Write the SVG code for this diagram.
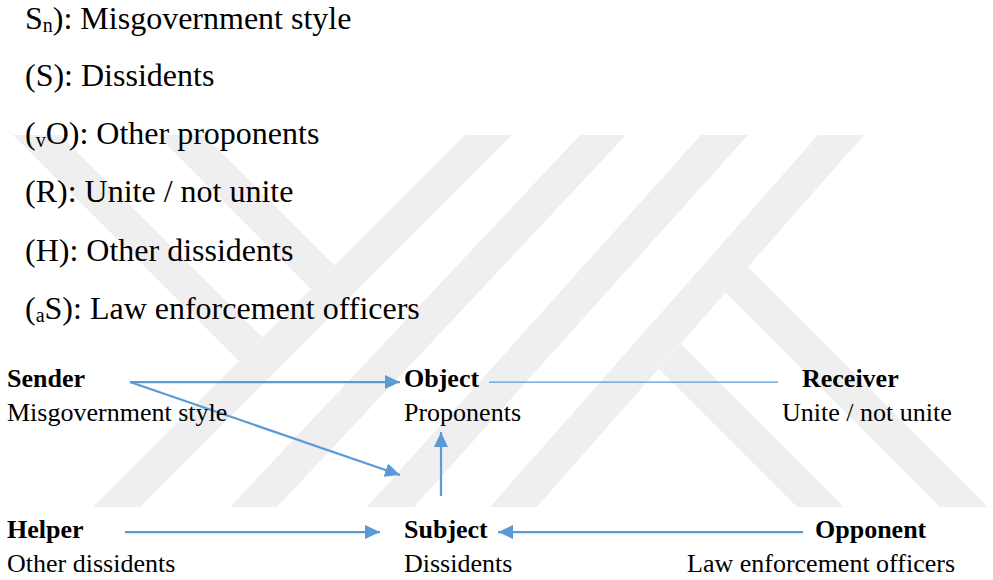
<svg xmlns="http://www.w3.org/2000/svg" width="993" height="580" viewBox="0 0 993 580">
  <style>
    .wm { fill: #efefef; }
    .list { font-family: "Liberation Serif", "Times New Roman", serif; font-size: 32px; fill: #000; }
    .t { font-family: "Liberation Serif", "Times New Roman", serif; font-size: 26px; fill: #000; }
    .b { font-weight: bold; }
    .conn { stroke: #5b9bd5; stroke-width: 2.25; fill: none; }
    .thin { stroke: #5b9bd5; stroke-width: 1.25; fill: none; }
  </style>
  <defs>
    <marker id="ah" markerUnits="userSpaceOnUse" markerWidth="16" markerHeight="15" refX="15" refY="7" orient="auto">
      <path d="M0,0 L15,7 L0,14 z" fill="#5b9bd5"/>
    </marker>
  </defs>

  <rect width="993" height="580" fill="#ffffff"/>

  <!-- light grey background emblem made of diagonal stripes -->
  <g id="emblem">
    <polygon class="wm" points="13,135 60,135 262.5,337.5 239,361"/>
    <polygon class="wm" points="157,135 204,135 334.5,265.5 311,289"/>
    <polygon class="wm" points="465,135 512,135 140,507 93,507"/>
    <polygon class="wm" points="580,135 626,135 277,507 230,507"/>
    <polygon class="wm" points="701,135 748,135 414,507 367,507"/>
    <polygon class="wm" points="818,135 864,135 537,507 490,507"/>
    <polygon class="wm" points="659,369 681,344 844,507 797,507"/>
    <polygon class="wm" points="725,292 748,267 988,507 940,507"/>
  </g>

  <!-- legend of actants -->
  <g id="legend" class="list">
    <text x="25" y="29">S<tspan font-size="20" dy="3">n</tspan><tspan dy="-3">): Misgovernment style</tspan></text>
    <text x="25" y="86">(S): Dissidents</text>
    <text x="25" y="144">(<tspan font-size="20" dy="3">v</tspan><tspan dy="-3">O): Other proponents</tspan></text>
    <text x="25" y="202">(R): Unite / not unite</text>
    <text x="25" y="261">(H): Other dissidents</text>
    <text x="25" y="319">(<tspan font-size="20" dy="3">a</tspan><tspan dy="-3">S): Law enforcement officers</tspan></text>
  </g>

  <!-- connectors -->
  <g id="connectors">
    <path class="conn" d="M130,382 H400" marker-end="url(#ah)"/>
    <path class="conn" d="M130,382 L400,475" marker-end="url(#ah)"/>
    <path class="conn" d="M441,496 V432" marker-end="url(#ah)"/>
    <path class="conn" d="M125,532 H380" marker-end="url(#ah)"/>
    <path class="conn" d="M803,532 H498" marker-end="url(#ah)"/>
    <path class="thin" d="M489,382 H778"/>
  </g>

  <!-- actant nodes -->
  <g id="sender" class="t">
    <text x="7" y="387" class="b">Sender</text>
    <text x="7" y="421">Misgovernment style</text>
  </g>
  <g id="object" class="t">
    <text x="404" y="387" class="b">Object</text>
    <text x="404" y="421">Proponents</text>
  </g>
  <g id="receiver" class="t">
    <text x="802" y="387" class="b">Receiver</text>
    <text x="782" y="421">Unite / not unite</text>
  </g>
  <g id="helper" class="t">
    <text x="7" y="538" class="b">Helper</text>
    <text x="7" y="572">Other dissidents</text>
  </g>
  <g id="subject" class="t">
    <text x="404" y="538" class="b">Subject</text>
    <text x="404" y="572">Dissidents</text>
  </g>
  <g id="opponent" class="t">
    <text x="815" y="538" class="b">Opponent</text>
    <text x="687" y="572">Law enforcement officers</text>
  </g>
</svg>
